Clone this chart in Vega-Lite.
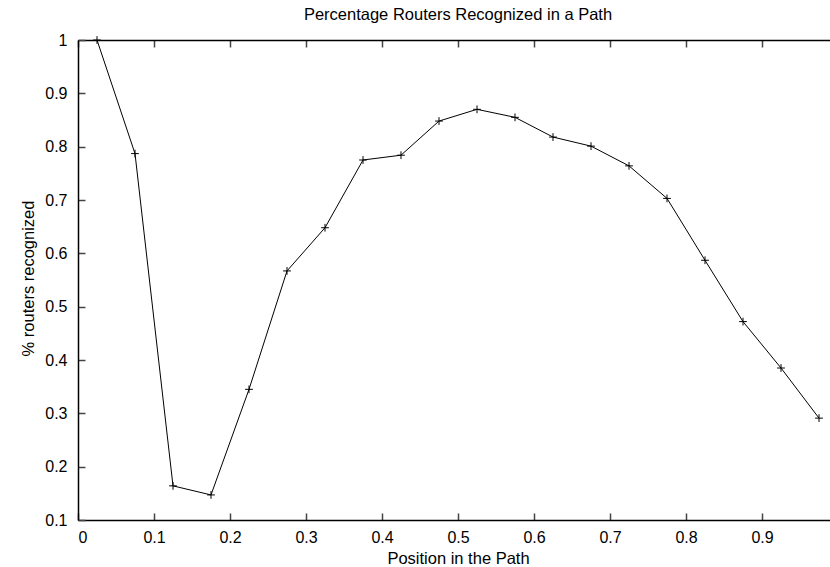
{
  "$schema": "https://vega.github.io/schema/vega-lite/v6.json",
  "width": 752,
  "height": 480,
  "autosize": {"type": "none"},
  "padding": {"left": 78, "top": 40, "right": 0, "bottom": 47},
  "background": "white",
  "config": {
    "view": {"stroke": null},
    "font": "Liberation Sans",
    "axis": {
      "grid": false,
      "domainColor": "#000000",
      "domainWidth": 1.5,
      "tickColor": "#444444",
      "tickWidth": 1.5,
      "tickSize": -7,
      "labelFont": "Liberation Sans",
      "labelFontSize": 16,
      "labelColor": "#000000",
      "titleFont": "Liberation Sans",
      "titleFontSize": 16.5,
      "titleFontWeight": "normal",
      "titleColor": "#000000"
    }
  },
  "title": {
    "text": "Percentage Routers Recognized in a Path",
    "font": "Liberation Sans",
    "fontSize": 16.5,
    "fontWeight": "normal",
    "color": "#000000",
    "baseline": "alphabetic",
    "offset": 0,
    "dx": 4,
    "dy": 4
  },
  "data": {
    "values": [
      {"position": 0.025, "recognized": 1.0},
      {"position": 0.075, "recognized": 0.787},
      {"position": 0.125, "recognized": 0.164},
      {"position": 0.175, "recognized": 0.147},
      {"position": 0.225, "recognized": 0.345},
      {"position": 0.275, "recognized": 0.567},
      {"position": 0.325, "recognized": 0.648},
      {"position": 0.375, "recognized": 0.775},
      {"position": 0.425, "recognized": 0.784},
      {"position": 0.475, "recognized": 0.848},
      {"position": 0.525, "recognized": 0.870},
      {"position": 0.575, "recognized": 0.855},
      {"position": 0.625, "recognized": 0.818},
      {"position": 0.675, "recognized": 0.801},
      {"position": 0.725, "recognized": 0.764},
      {"position": 0.775, "recognized": 0.703},
      {"position": 0.825, "recognized": 0.587},
      {"position": 0.875, "recognized": 0.472},
      {"position": 0.925, "recognized": 0.385},
      {"position": 0.975, "recognized": 0.291}
    ]
  },
  "layer": [
    {
      "mark": {"type": "line", "color": "#000000", "strokeWidth": 1, "clip": true},
      "encoding": {
        "x": {
          "field": "position",
          "type": "quantitative",
          "scale": {"domain": [0, 0.98947], "nice": false, "zero": false},
          "axis": {
            "orient": "bottom",
            "values": [0, 0.1, 0.2, 0.3, 0.4, 0.5, 0.6, 0.7, 0.8, 0.9],
            "format": "~g",
            "labelPadding": 16,
            "title": "Position in the Path",
            "titleX": 380,
            "titleY": 43,
            "titleBaseline": "alphabetic",
            "titleAlign": "center"
          }
        },
        "y": {
          "field": "recognized",
          "type": "quantitative",
          "scale": {"domain": [0.1, 1], "nice": false, "zero": false},
          "axis": {
            "values": [0.1, 0.2, 0.3, 0.4, 0.5, 0.6, 0.7, 0.8, 0.9, 1],
            "format": "~g",
            "labelPadding": 18,
            "title": "% routers recognized",
            "titleAngle": -90,
            "titleX": -45,
            "titleY": 238,
            "titleBaseline": "alphabetic",
            "titleAlign": "center"
          }
        }
      }
    },
    {
      "mark": {
        "type": "point",
        "shape": "M-1,0L1,0M0,-1L0,1",
        "filled": false,
        "stroke": "#000000",
        "strokeWidth": 1,
        "size": 60,
        "opacity": 1
      },
      "encoding": {
        "x": {
          "field": "position",
          "type": "quantitative",
          "axis": {
            "orient": "top",
            "values": [0, 0.1, 0.2, 0.3, 0.4, 0.5, 0.6, 0.7, 0.8, 0.9],
            "labels": false,
            "title": null
          }
        },
        "y": {"field": "recognized", "type": "quantitative"}
      }
    }
  ]
}
